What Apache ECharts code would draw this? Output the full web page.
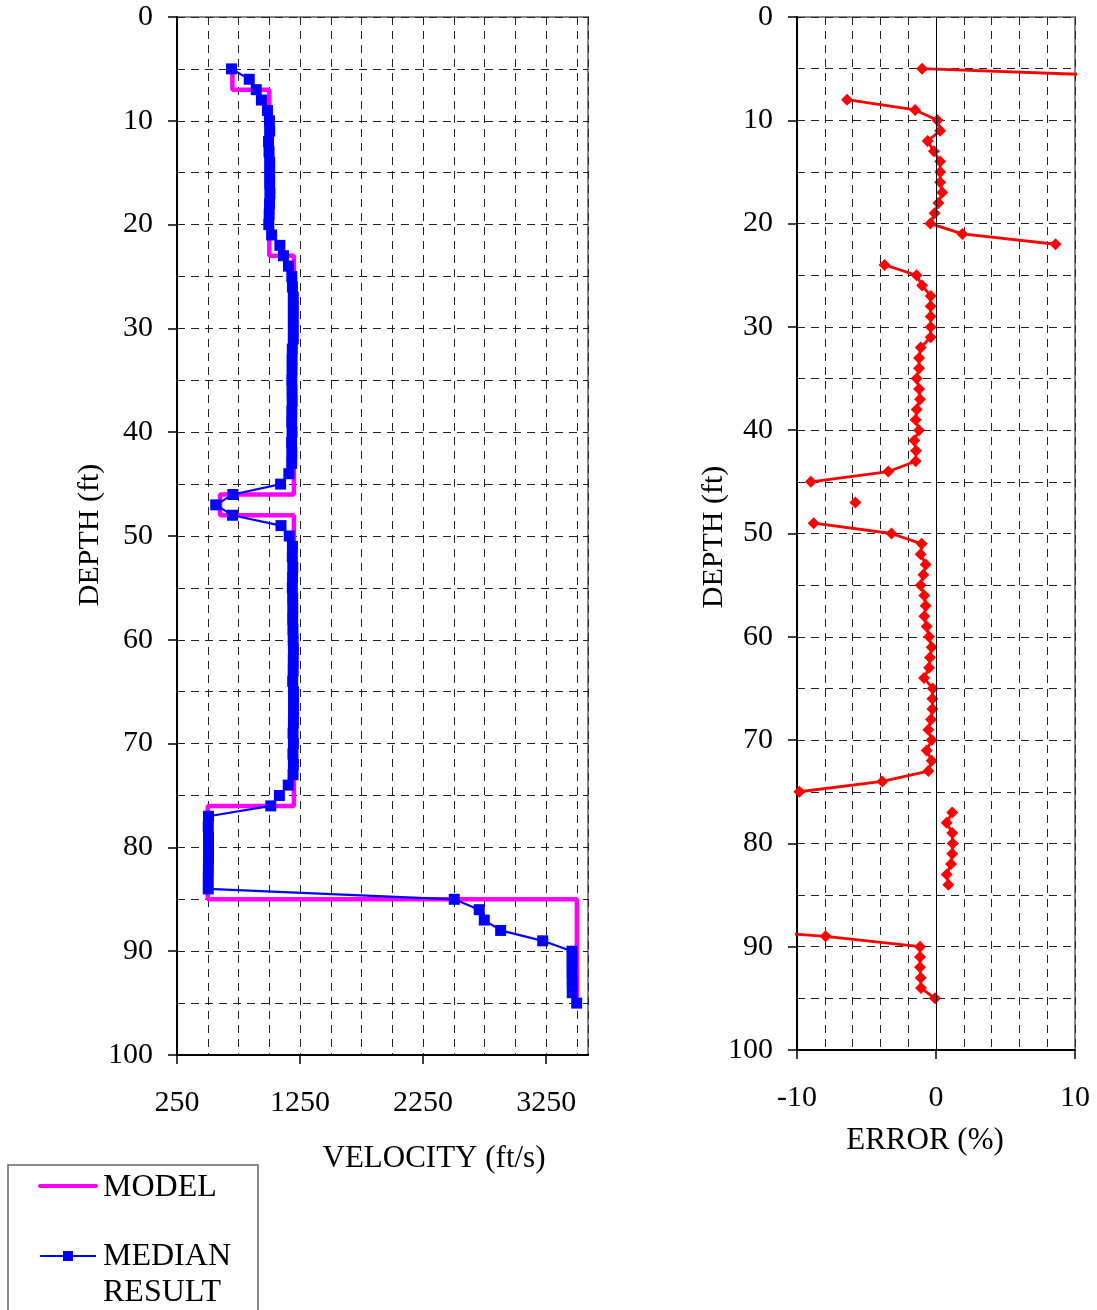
<!DOCTYPE html>
<html>
<head>
<meta charset="utf-8">
<script src="https://cdn.jsdelivr.net/npm/echarts@6/dist/echarts.min.js"></script>
<style>
html,body{margin:0;padding:0;background:#fff;}
#chart{width:1097px;height:1310px;}
</style>
</head>
<body>
<div id="chart"></div>
<script>
// Sample depths (ft)
const depths = [
  5, 6, 7, 8, 9, 10, 11, 12, 13, 14,
  15, 16, 17, 18, 19, 20, 21, 22, 23, 24,
  25, 26, 27, 28, 29, 30, 31, 32, 33, 34,
  35, 36, 37, 38, 39, 40, 41, 42, 43, 44,
  45, 46, 47, 48, 49, 50, 51, 52, 53, 54,
  55, 56, 57, 58, 59, 60, 61, 62, 63, 64,
  65, 66, 67, 68, 69, 70, 71, 72, 73, 74,
  75, 76, 77, 78, 79, 80, 81, 82, 83, 84,
  85, 86, 87, 88, 89, 90, 91, 92, 93, 94,
  95
];

// Median inverted velocity at each depth (ft/s)
const medianVelocity = [
  693, 837, 894, 936, 985, 1001, 1003, 994, 998, 1003,
  1003, 1003, 1005, 1002, 999, 996, 1019, 1086, 1115, 1156,
  1183, 1188, 1195, 1195, 1195, 1195, 1195, 1187, 1185, 1185,
  1183, 1185, 1186, 1183, 1182, 1185, 1181, 1183, 1182, 1159,
  1092, 704, 565, 701, 1095, 1162, 1188, 1187, 1191, 1189,
  1187, 1190, 1191, 1190, 1192, 1194, 1196, 1195, 1194, 1190,
  1197, 1197, 1197, 1196, 1193, 1196, 1192, 1196, 1193, 1154,
  1082, 1012, 506, 504, 506, 506, 506, 505, 504, 504,
  2503, 2706, 2747, 2880, 3222, 3460, 3460, 3460, 3461, 3462,
  3498
];

// Error of the median result (%); null at layer boundaries
const errorPct = [
  -1.0, 19.6, null, -6.4, -1.5, 0.1, 0.3, -0.6, -0.15, 0.3,
  0.3, 0.3, 0.45, 0.17, -0.1, -0.4, 1.9, 8.6, null, -3.7,
  -1.4, -1.0, -0.38, -0.38, -0.38, -0.38, -0.38, -1.1, -1.22, -1.22,
  -1.39, -1.22, -1.15, -1.39, -1.46, -1.22, -1.56, -1.44, -1.46, -3.43,
  -9.0, null, -5.8, null, -8.8, -3.2, -1.03, -1.1, -0.74, -0.91,
  -1.1, -0.84, -0.74, -0.84, -0.67, -0.5, -0.31, -0.43, -0.5, -0.86,
  -0.24, -0.26, -0.26, -0.36, -0.55, -0.31, -0.67, -0.31, -0.55, -3.86,
  -9.83, null, 1.17, 0.77, 1.17, 1.2, 1.17, 1.08, 0.77, 0.89,
  null, -22.7, -21.5, -17.7, -7.94, -1.15, -1.15, -1.15, -1.1, -1.08,
  -0.07
];

// Layered velocity model
const layerTop      = [5, 7, 23, 46, 48, 76, 85];
const layerBottom   = [7, 23, 46, 48, 76, 85, 95];
const layerVelocity = [700, 1000, 1200, 600, 1200, 500, 3500];

// Tick labels
const velocityTicks = [250, 1250, 2250, 3250];
const errorTicks = [-10, 0, 10];
const depthTicks = [0, 10, 20, 30, 40, 50, 60, 70, 80, 90, 100];

const SERIF = '"Liberation Serif", "Times New Roman", serif';

// Model drawn as a staircase through each layer's top and bottom
const modelLine = [];
layerVelocity.forEach((v, i) => {
  modelLine.push([v, layerTop[i]]);
  modelLine.push([v, layerBottom[i]]);
});
const medianLine = depths.map((d, i) => [medianVelocity[i], d]);
const errorLine = depths.map((d, i) => [errorPct[i] == null ? '-' : errorPct[i], d]);

const gridDash = { color: '#222', width: 1, type: [8, 6] };
const labelStyle = { color: '#000', fontFamily: SERIF, fontSize: 30 };

function gridAxis(gridIndex, min, max, interval, inverse) {
  return {
    type: 'value', gridIndex, min, max, interval, inverse: !!inverse,
    axisLine: { show: false }, axisTick: { show: false }, axisLabel: { show: false },
    splitLine: { show: true, lineStyle: gridDash }
  };
}
function labelAxis(gridIndex, min, max, ticks, inverse, position, margin) {
  return {
    type: 'value', gridIndex, min, max, inverse: !!inverse, position,
    axisLine: { show: true, onZero: false, lineStyle: { color: '#000', width: 2 } },
    axisTick: { show: true, inside: false, length: 9, customValues: ticks, lineStyle: { color: '#000', width: 1.5 } },
    axisLabel: Object.assign({ show: true, margin, customValues: ticks, formatter: v => String(v) }, labelStyle),
    splitLine: { show: false }
  };
}

const chart = echarts.init(document.getElementById('chart'), null, { renderer: 'canvas' });

chart.setOption({
  animation: false,
  backgroundColor: '#fff',
  grid: [
    { left: 177, top: 17, width: 411, height: 1038, show: true, borderColor: '#888', borderWidth: 2, backgroundColor: '#fff' },
    { left: 797, top: 17, width: 278, height: 1033, show: true, borderColor: '#888', borderWidth: 2, backgroundColor: '#fff' }
  ],
  xAxis: [
    gridAxis(0, 250, 3590, 250),
    labelAxis(0, 250, 3590, velocityTicks, false, 'bottom', 33),
    gridAxis(1, -10, 10, 2),
    labelAxis(1, -10, 10, errorTicks, false, 'bottom', 33)
  ],
  yAxis: [
    gridAxis(0, 0, 100, 5, true),
    labelAxis(0, 0, 100, depthTicks, true, 'left', 24),
    gridAxis(1, 0, 100, 5, true),
    labelAxis(1, 0, 100, depthTicks, true, 'left', 24)
  ],
  series: [
    {
      name: 'MODEL', type: 'line', xAxisIndex: 0, yAxisIndex: 0,
      data: modelLine, showSymbol: false, symbol: 'none',
      lineStyle: { color: '#FF00FF', width: 4.5 }, z: 3
    },
    {
      name: 'MEDIAN RESULT', type: 'line', xAxisIndex: 0, yAxisIndex: 0,
      data: medianLine, symbol: 'rect', symbolSize: 11,
      itemStyle: { color: '#0000FF' },
      lineStyle: { color: '#0000FF', width: 2.2 }, z: 4
    },
    {
      name: 'ERROR', type: 'line', xAxisIndex: 2, yAxisIndex: 2,
      data: errorLine, symbol: 'diamond', symbolSize: [12, 12],
      connectNulls: false, clip: true,
      itemStyle: { color: '#FF0000' },
      lineStyle: { color: '#FF0000', width: 2.8 }, z: 4,
      markLine: {
        silent: true, symbol: ['none', 'none'], label: { show: false },
        lineStyle: { color: '#000', type: 'solid', width: 1 },
        data: [{ xAxis: 0 }]
      }
    }
  ],
  graphic: [
    { type: 'text', x: 90, y: 535, rotation: Math.PI / 2,
      style: { text: 'DEPTH (ft)', fontFamily: SERIF, fontSize: 30, fill: '#000', align: 'center', verticalAlign: 'middle' } },
    { type: 'text', x: 714, y: 537, rotation: Math.PI / 2,
      style: { text: 'DEPTH (ft)', fontFamily: SERIF, fontSize: 30, fill: '#000', align: 'center', verticalAlign: 'middle' } },
    { type: 'text', x: 434, y: 1159,
      style: { text: 'VELOCITY (ft/s)', fontFamily: SERIF, fontSize: 31, fill: '#000', align: 'center', verticalAlign: 'middle' } },
    { type: 'text', x: 925, y: 1141,
      style: { text: 'ERROR (%)', fontFamily: SERIF, fontSize: 31, fill: '#000', align: 'center', verticalAlign: 'middle' } },
    // legend box
    { type: 'rect', shape: { x: 8, y: 1165, width: 250, height: 170 },
      style: { fill: 'none', stroke: '#666', lineWidth: 1.5 } },
    { type: 'line', shape: { x1: 40, y1: 1186, x2: 96, y2: 1186 },
      style: { stroke: '#FF00FF', lineWidth: 4, lineCap: 'round' } },
    { type: 'text', x: 103, y: 1188,
      style: { text: 'MODEL', fontFamily: SERIF, fontSize: 32, fill: '#000', align: 'left', verticalAlign: 'middle' } },
    { type: 'line', shape: { x1: 40, y1: 1256, x2: 96, y2: 1256 },
      style: { stroke: '#0000FF', lineWidth: 2 } },
    { type: 'rect', shape: { x: 63, y: 1251, width: 10, height: 10 },
      style: { fill: '#0000FF' } },
    { type: 'text', x: 103, y: 1257,
      style: { text: 'MEDIAN', fontFamily: SERIF, fontSize: 32, fill: '#000', align: 'left', verticalAlign: 'middle' } },
    { type: 'text', x: 103, y: 1293,
      style: { text: 'RESULT', fontFamily: SERIF, fontSize: 32, fill: '#000', align: 'left', verticalAlign: 'middle' } }
  ]
});
</script>
</body>
</html>
